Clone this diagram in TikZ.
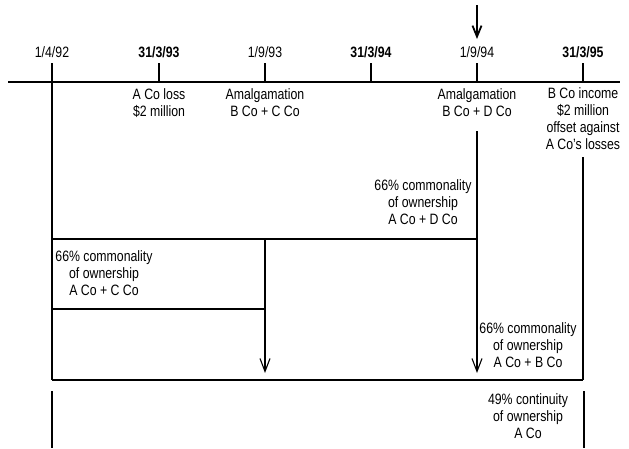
\documentclass[tikz,border=0pt]{standalone}
\usepackage{fontspec}
\setmainfont{Liberation Sans}[FakeStretch=0.82]
\usetikzlibrary{arrows.meta}
\begin{document}
\begin{tikzpicture}[x=1pt,y=-1pt,
  ln/.style={line width=1.3pt},
  darrow/.style={ln,-{Straight Barb[length=13pt,width=10pt,line width=1.1pt]}},
  txt/.style={inner sep=0pt,align=center,font=\fontsize{15}{17}\selectfont},
  datelbl/.style={inner sep=0pt,font=\fontsize{15}{17}\selectfont},
  bdate/.style={datelbl,font=\fontsize{15}{17}\selectfont\bfseries}]
\useasboundingbox (0,0) rectangle (629,448);
% timeline
\coordinate (tl0) at (8,82);
\coordinate (tl1) at (620,82);
\draw[ln] (tl0) -- (tl1);
% dates
\node[datelbl] (d1) at (52,52) {1/4/92};
\node[bdate] (d2) at (159,52) {31/3/93};
\node[datelbl] (d3) at (265,52) {1/9/93};
\node[bdate] (d4) at (371,52) {31/3/94};
\node[datelbl] (d5) at (477,52) {1/9/94};
\node[bdate] (d6) at (583,52) {31/3/95};
% tick tops and bottoms
\foreach \n/\x in {1/52,2/159,3/265,4/371,5/477,6/583}{
  \coordinate (k\n) at (\x,63);
  \coordinate (b\n) at (\x,82);
}
\foreach \n in {2,3,4,5,6}{\draw[ln] (k\n) -- (b\n);}
% top arrow
\coordinate (ta0) at (477,5);
\coordinate (ta1) at (477,39);
\draw[line width=2.2pt,-{Straight Barb[length=11pt,width=9pt,line width=1.8pt]}] (ta0) -- (ta1);
% event texts
\node[txt] (eA) at (159,103) {A Co loss\\\$2 million};
\node[txt] (eB) at (265,103) {Amalgamation\\B Co + C Co};
\node[txt] (eD) at (477,103) {Amalgamation\\B Co + D Co};
\node[txt] (eE) at (583,119) {B Co income\\\$2 million\\offset against\\A Co’s losses};
% ownership texts
\node[txt] (oAD) at (423,202) {66\% commonality\\of ownership\\A Co + D Co};
\node[txt] (oAC) at (104,273) {66\% commonality\\of ownership\\A Co + C Co};
\node[txt] (oAB) at (528,345) {66\% commonality\\of ownership\\A Co + B Co};
\node[txt] (oA) at (528,416) {49\% continuity\\of ownership\\A Co};
% structure coordinates
\coordinate (L239) at (52,239);
\coordinate (L309) at (52,309);
\coordinate (L380) at (52,380);
\coordinate (C239) at (265,239);
\coordinate (C309) at (265,309);
\coordinate (Cend) at (265,373);
\coordinate (D131) at (477,131);
\coordinate (D239) at (477,239);
\coordinate (Dend) at (477,373);
\coordinate (R157) at (583,157);
\coordinate (R380) at (583,380);
\coordinate (LL0) at (52,391);
\coordinate (LL1) at (52,448);
\coordinate (RR0) at (584,391);
\coordinate (RR1) at (584,448);
% lines
\draw[ln] (k1) -- (L380);
\draw[ln] (L239) -- (D239);
\draw[ln] (L309) -- (C309);
\draw[ln] (L380) -- (R380);
\draw[ln] (R157) -- (R380);
\draw[darrow] (C239) -- (Cend);
\draw[darrow] (D131) -- (Dend);
\draw[ln] (LL0) -- (LL1);
\draw[ln] (RR0) -- (RR1);
\end{tikzpicture}
\end{document}
